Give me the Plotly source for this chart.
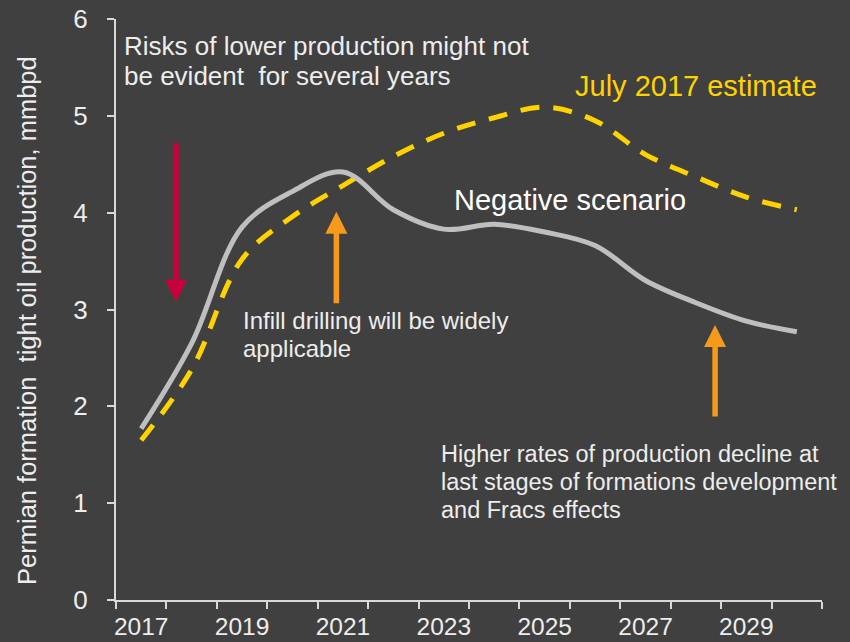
import plotly.graph_objects as go

years = [2017, 2018, 2019, 2020, 2021, 2022, 2023, 2024, 2025, 2026, 2027, 2028, 2029, 2030]
negative_scenario = [1.77, 2.65, 3.85, 4.22, 4.42, 4.03, 3.83, 3.88, 3.80, 3.66, 3.30, 3.07, 2.88, 2.77]
july_2017_estimate = [1.65, 2.38, 3.52, 3.96, 4.28, 4.58, 4.82, 4.98, 5.09, 4.95, 4.60, 4.37, 4.16, 4.03]
tick_years = [2017, 2019, 2021, 2023, 2025, 2027, 2029]

BG = "#404040"
TXT = "#EDEDED"
FONT = "Liberation Sans, Arial, sans-serif"


def txt(x, y, s, size, color=TXT, xanchor="left"):
    return dict(x=x, y=y, xref="x", yref="y", xanchor=xanchor, yanchor="middle",
                text=s, showarrow=False, font=dict(size=size, color=color, family=FONT))


fig = go.Figure()
fig.add_trace(go.Scatter(
    x=years, y=july_2017_estimate, mode="lines", name="July 2017 estimate",
    line=dict(color="#FFD200", width=5, dash="19px,14px", shape="spline", smoothing=1.0),
))
fig.add_trace(go.Scatter(
    x=years, y=negative_scenario, mode="lines", name="Negative scenario",
    line=dict(color="#BFBFBF", width=5, shape="spline", smoothing=1.0),
))

annotations = [
    txt(2016.61, 5.722, "Risks of lower production might not", 26),
    txt(2016.61, 5.413, "be evident  for several years", 26),
    txt(2030.45, 5.309, "July 2017 estimate", 29, color="#FFD200", xanchor="right"),
    txt(2023.17, 4.129, "Negative scenario", 29, color="#FFFFFF"),
    txt(2018.98, 2.882, "Infill drilling will be widely", 24),
    txt(2018.98, 2.593, "applicable", 24),
    txt(2022.91, 1.509, "Higher rates of production decline at", 23.5),
    txt(2022.91, 1.223, "last stages of formations development", 23.5),
    txt(2022.91, 0.931, "and Fracs effects", 23.5),
    # arrows
    dict(x=2017.69, y=3.08, xref="x", yref="y", ax=0, ay=-160, text="", showarrow=True,
         arrowhead=2, arrowsize=0.8, arrowwidth=5.5, arrowcolor="#C8003C"),
    dict(x=2020.87, y=4.01, xref="x", yref="y", ax=0, ay=93, text="", showarrow=True,
         arrowhead=2, arrowsize=0.8, arrowwidth=5.5, arrowcolor="#F59A1B"),
    dict(x=2028.38, y=2.84, xref="x", yref="y", ax=0, ay=93, text="", showarrow=True,
         arrowhead=2, arrowsize=0.8, arrowwidth=5.5, arrowcolor="#F59A1B"),
    # y-axis title
    dict(x=-0.1261, y=0.482, xref="paper", yref="paper", xanchor="center", yanchor="middle",
         text="Permian formation  tight oil production, mmbpd", textangle=-90, showarrow=False,
         font=dict(size=25.5, color=TXT, family=FONT)),
]

fig.update_layout(
    width=850, height=642,
    margin=dict(l=116, r=28, t=19, b=42, autoexpand=False),
    paper_bgcolor=BG, plot_bgcolor=BG,
    showlegend=False,
    font=dict(family=FONT, color=TXT),
    annotations=annotations,
    xaxis=dict(
        range=[2016.5, 2030.5], tickmode="array", tickvals=tick_years,
        ticktext=[str(t) for t in tick_years], ticks="", showgrid=False, zeroline=False,
        showline=True, linecolor="#D9D9D9", linewidth=2, automargin=False,
        tickfont=dict(size=24.5, color=TXT, family=FONT),
        ticklabelstandoff=4, ticklabeloverflow="allow",
        minor=dict(tick0=2016.5, dtick=1, ticks="outside", ticklen=7, tickwidth=2,
                   tickcolor="#D9D9D9", showgrid=False),
    ),
    yaxis=dict(
        range=[0, 6], dtick=1, ticks="outside", ticklen=7, tickwidth=2, tickcolor="#D9D9D9",
        showgrid=False, zeroline=False, showline=True, linecolor="#D9D9D9", linewidth=2,
        automargin=False,
        tickfont=dict(size=26, color=TXT, family=FONT),
        ticklabelstandoff=14, ticklabeloverflow="allow",
    ),
)

fig.write_html("out.html", config={"displayModeBar": False},
               post_script="document.body.style.margin='0';")
